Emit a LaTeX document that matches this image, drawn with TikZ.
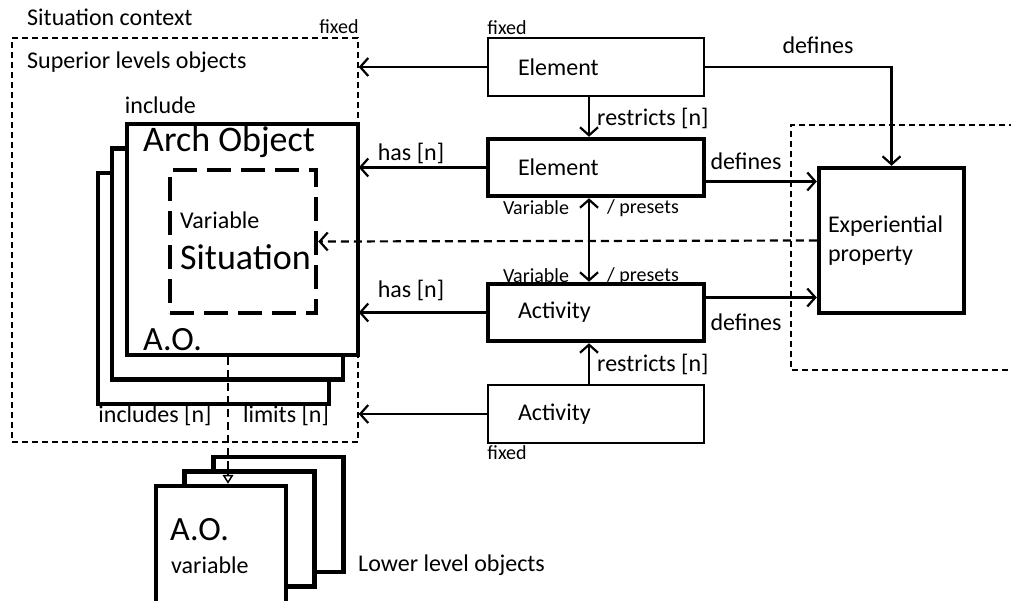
\documentclass[tikz,border=0pt]{standalone}
\usepackage{fontspec}
\setmainfont{Carlito}
\usetikzlibrary{arrows.meta,calc,positioning}
\tikzset{
	lbl/.style={font=\fontsize{24}{29}\selectfont, inner sep=0pt},
	small lbl/.style={font=\fontsize{20}{24}\selectfont, inner sep=0pt},
	big lbl/.style={font=\fontsize{36}{40}\selectfont, inner sep=0pt},
	fixbox/.style={lbl, draw, line width=1.5pt, minimum width=216pt, minimum height=58pt,
		inner xsep=30pt, text width=156pt, align=left},
	varbox/.style={fixbox, line width=4.5pt, minimum height=57pt},
	expbox/.style={lbl, draw, line width=4.5pt, minimum width=145pt, minimum height=145pt,
		inner xsep=9pt, text width=127pt, align=left},
	aobox/.style={draw, fill=white, line width=4.5pt, minimum width=231pt, minimum height=231pt},
	lobox/.style={draw, fill=white, line width=4.5pt, minimum width=130pt, minimum height=115pt},
	sitbox/.style={draw, line width=4.5pt, dash pattern=on 24pt off 10pt,
		minimum width=146pt, minimum height=143pt},
	region/.style={draw, line width=1.5pt, dash pattern=on 6pt off 4pt},
	ar/.style={line width=2.2pt, -{Straight Barb[length=8pt,width=18pt]}},
	dar/.style={ar, dash pattern=on 8pt off 5pt},
}

\begin{document}
\begin{tikzpicture}[x=1pt, y=-1pt]
   \useasboundingbox (0,0) rectangle (1011,600);

   % superior level objects
   \node[region, minimum width=346pt, minimum height=404pt] (sup) at (185,240) {};
   \node[lbl, anchor=west] (ctx) at (27,17) {Situation context};
   \node[small lbl, anchor=south east] (supfix) at ([yshift=3pt]sup.north east) {fixed};
   \node[lbl, anchor=west] (suplbl) at (27,62) {Superior levels objects};

   \node[aobox] (ao3) at (213.5,288.5) {};
   \node[aobox] (ao2) at (227.5,264) {};
   \node[aobox] (ao1) at (242.5,239.5) {};
   \node[lbl, anchor=south west] (incl) at ([yshift=8pt]ao1.north west) {include};
   \node[big lbl] (aotitle) at (229,142) {Arch Object};
   \node[sitbox] (sit) at (243,241.5) {};
   \node[lbl, anchor=west] (sitvar) at (180,220) {Variable};
   \node[big lbl, anchor=west] (sitname) at (180,257) {Situation};
   \node[lbl, font=\fontsize{34}{38}\selectfont, anchor=west] (aoabbr) at (143,340) {A.O.};
   \node[lbl] (incn) at (155,415) {includes [n]};
   \node[lbl] (limn) at (286,415) {limits [n]};

   % lower level objects
   \node[lobox] (lo3) at (278.5,514.5) {};
   \node[lobox] (lo2) at (249.5,529) {};
   \node[lobox, minimum height=122pt] (lo1) at (221,547) {};
   \node[lbl, font=\fontsize{34}{38}\selectfont, anchor=west] (loabbr) at (170,530) {A.O.};
   \node[lbl, anchor=west] (lovar) at (171,565) {variable};
   \node[lbl, anchor=west] (lolbl) at (358,565) {Lower level objects};

   % element / activity
   \node[fixbox] (efix) at (596,67) {Element};
   \node[varbox] (evar) at (596,167.5) {Element};
   \node[varbox] (act) at (596,312.5) {Activity};
   \node[fixbox] (afix) at (596,414) {Activity};
   \node[small lbl, anchor=south west] (efixlbl) at ([yshift=2pt]efix.north west) {fixed};
   \node[small lbl, anchor=north west] (afixlbl) at ([yshift=-2pt]afix.south west) {fixed};

   % experiential property
   \draw[region] (1015,125) -- (791,125) -- (791,370) -- (1015,370);
   \node[expbox] (exp) at (891.5,240.5) {Experiential\\property};

   % connectors
   \draw[ar] (efix.west) -- (efix.west -| sup.east);
   \draw[ar] (evar.west) -- (evar.west -| sup.east);
   \draw[ar] (act.west) -- (act.west -| sup.east);
   \draw[ar] (afix.west) -- (afix.west -| sup.east);
   \draw[ar] ([xshift=-7pt]efix.south) -- ([xshift=-7pt]evar.north);
   \draw[ar] ([xshift=-7pt]afix.north) -- ([xshift=-7pt]act.south);
   \draw[ar, {Straight Barb[length=8pt,width=18pt]}-{Straight Barb[length=8pt,width=18pt]}]
      ([xshift=-7pt]evar.south) -- ([xshift=-7pt]act.north);
   \draw[ar] (efix.east) -| (exp.north);
   \draw[ar] ([yshift=-14pt]evar.east) -- ([yshift=-14pt]evar.east -| exp.west);
   \draw[ar] ([yshift=15pt]act.east) -- ([yshift=15pt]act.east -| exp.west);
   \draw[dar] (exp.west) -- (sit.east);
   \draw[dar, -{Triangle[open,length=9pt,width=11pt,line width=1.5pt]}]
      ([xshift=-14.5pt]ao1.south) -- ([xshift=-14.5pt]ao1.south |- lo1.north);

   % connector labels
   \node[lbl] (def1) at (818,45) {defines};
   \node[lbl, anchor=west] (res1) at (597,118) {restricts [n]};
   \node[lbl] (has1) at (411,153) {has [n]};
   \node[lbl] (def2) at (746,161) {defines};
   \node[small lbl] (var1) at (536,208) {Variable};
   \node[small lbl] (pre1) at (643,208) {/ presets};
   \node[small lbl] (var2) at (536,276) {Variable};
   \node[small lbl] (pre2) at (643,276) {/ presets};
   \node[lbl] (has2) at (411,290) {has [n]};
   \node[lbl] (def3) at (746,322) {defines};
   \node[lbl, anchor=west] (res2) at (597,364) {restricts [n]};
\end{tikzpicture}
\end{document}
